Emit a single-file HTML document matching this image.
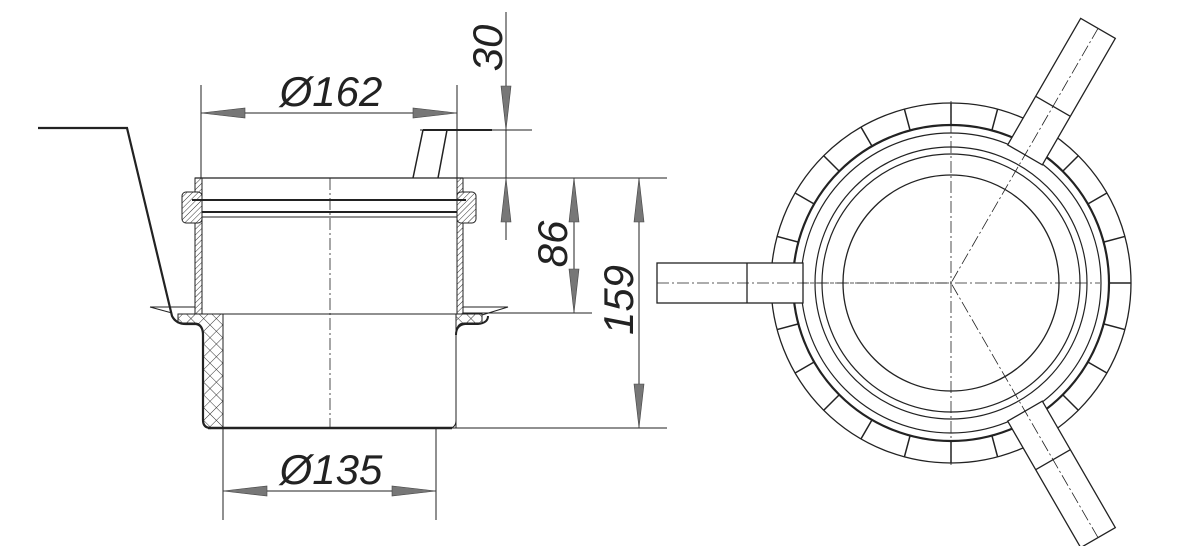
<!DOCTYPE html>
<html><head><meta charset="utf-8"><style>
html,body{margin:0;padding:0;background:#fff}
svg{display:block}
text{font-family:"Liberation Sans",sans-serif;font-style:italic;fill:#222}
</style></head><body>
<svg width="1194" height="546" viewBox="0 0 1194 546" xmlns="http://www.w3.org/2000/svg">
<defs>
<pattern id="h" width="4" height="4" patternUnits="userSpaceOnUse" patternTransform="rotate(45)">
<rect width="4" height="4" fill="#fff"/><line x1="0" y1="0" x2="0" y2="4" stroke="#333" stroke-width="1"/></pattern>
<pattern id="x" width="9" height="9" patternUnits="userSpaceOnUse" patternTransform="rotate(45)">
<rect width="9" height="9" fill="#fff"/><path d="M0 0V9M0 0H9" stroke="#333" stroke-width="1"/></pattern>
</defs>
<g fill="none" stroke="#222" stroke-width="1">
<!-- dimension lines left view -->
<line x1="201" y1="85" x2="201" y2="178"/>
<line x1="457" y1="85" x2="457" y2="178"/>
<line x1="201" y1="113" x2="457" y2="113"/>
<line x1="223" y1="428" x2="223" y2="520"/>
<line x1="436" y1="428" x2="436" y2="520"/>
<line x1="223" y1="491" x2="436" y2="491"/>
<line x1="506" y1="12" x2="506" y2="240"/>
<line x1="420" y1="130" x2="532" y2="130"/>
<line x1="463" y1="178" x2="667" y2="178"/>
<line x1="460" y1="313" x2="592" y2="313"/>
<line x1="456" y1="428" x2="667" y2="428"/>
<line x1="574" y1="178" x2="574" y2="313"/>
<line x1="639" y1="178" x2="639" y2="428"/>
</g>
<g fill="#777" stroke="#444" stroke-width="0.6">
<polygon points="201,113 245,108 245,118"/>
<polygon points="457,113 413,108 413,118"/>
<polygon points="223,491 267,486 267,496"/>
<polygon points="436,491 392,486 392,496"/>
<polygon points="506,130 501,86 511,86"/>
<polygon points="506,178 501,222 511,222"/>
<polygon points="574,178 569,222 579,222"/>
<polygon points="574,313 569,269 579,269"/>
<polygon points="639,178 634,222 644,222"/>
<polygon points="639,428 634,384 644,384"/>
</g>
<text x="331" y="106" font-size="42" text-anchor="middle">Ø162</text>
<text x="331" y="484" font-size="42" text-anchor="middle">Ø135</text>
<text font-size="42" text-anchor="middle" transform="translate(502,48) rotate(-90)">30</text>
<text font-size="42" text-anchor="middle" transform="translate(567,244) rotate(-90)">86</text>
<text font-size="42" text-anchor="middle" transform="translate(633,300) rotate(-90)">159</text>

<!-- left section -->
<g stroke="#222" stroke-width="1">
<rect x="195" y="178" width="7" height="144" fill="url(#h)"/>
<rect x="457" y="178" width="6" height="144" fill="url(#h)"/>
<rect x="182" y="192" width="20" height="31" rx="4" fill="url(#h)"/>
<rect x="457" y="192" width="19" height="31" rx="4" fill="url(#h)"/>
<path d="M202 314 H223 V428 H210 Q203 428 203 420 V335 Q203 323 195 323 H178 V314 Z" fill="url(#x)"/>
<path d="M436 314 H456 V428 H449 Q456 428 456 420 V335 Q456 323 464 323 H482 V314 Z" fill="url(#x)"/>
</g>
<g fill="none" stroke="#222">
<line x1="195" y1="178" x2="463" y2="178" stroke-width="1.2"/>
<line x1="192" y1="200" x2="466" y2="200" stroke-width="2"/>
<line x1="202" y1="212" x2="457" y2="212" stroke-width="2"/>
<line x1="202" y1="217" x2="457" y2="217" stroke-width="1"/>
<line x1="223" y1="314" x2="436" y2="314" stroke-width="1"/>
<line x1="208" y1="428" x2="452" y2="428" stroke-width="2.5"/>
<line x1="330" y1="178" x2="330" y2="428" stroke-width="0.8" stroke-dasharray="12,3,2,3"/>
<path d="M38 128 H127 L172 316 Q176 324 186 324 H196 Q203 325 203 335 V420 Q203 428 211 428" stroke-width="2.2"/>
<path d="M456 335 Q456 325 465 324 H478 Q488 323 488 316" stroke-width="2"/>
<path d="M150 307 H195 M150 307 L172 313" stroke-width="1"/>
<path d="M463 307 H508 L482 315" stroke-width="1"/>
<path d="M423 130 H492" stroke-width="2"/>
<path d="M423 130 L413 178 M447 130 L438 178" stroke-width="1.5"/>
</g>

<!-- top view -->
<g fill="none" stroke="#222">
<circle cx="951" cy="283" r="180" stroke-width="1.3"/>
<circle cx="951" cy="283" r="158" stroke-width="2.2"/>
<circle cx="951" cy="283" r="150" stroke-width="1.2"/>
<circle cx="951" cy="283" r="136" stroke-width="1.2"/>
<circle cx="951" cy="283" r="129" stroke-width="1.2"/>
<circle cx="951" cy="283" r="108" stroke-width="1.3"/>
<g stroke-width="1.5" transform="translate(951,283)">
<line x1="158" y1="0" x2="180" y2="0" transform="rotate(0)"/>
<line x1="158" y1="0" x2="180" y2="0" transform="rotate(15)"/>
<line x1="158" y1="0" x2="180" y2="0" transform="rotate(30)"/>
<line x1="158" y1="0" x2="180" y2="0" transform="rotate(45)"/>
<line x1="158" y1="0" x2="180" y2="0" transform="rotate(75)"/>
<line x1="158" y1="0" x2="180" y2="0" transform="rotate(90)"/>
<line x1="158" y1="0" x2="180" y2="0" transform="rotate(105)"/>
<line x1="158" y1="0" x2="180" y2="0" transform="rotate(120)"/>
<line x1="158" y1="0" x2="180" y2="0" transform="rotate(135)"/>
<line x1="158" y1="0" x2="180" y2="0" transform="rotate(150)"/>
<line x1="158" y1="0" x2="180" y2="0" transform="rotate(165)"/>
<line x1="158" y1="0" x2="180" y2="0" transform="rotate(195)"/>
<line x1="158" y1="0" x2="180" y2="0" transform="rotate(210)"/>
<line x1="158" y1="0" x2="180" y2="0" transform="rotate(225)"/>
<line x1="158" y1="0" x2="180" y2="0" transform="rotate(240)"/>
<line x1="158" y1="0" x2="180" y2="0" transform="rotate(255)"/>
<line x1="158" y1="0" x2="180" y2="0" transform="rotate(270)"/>
<line x1="158" y1="0" x2="180" y2="0" transform="rotate(285)"/>
<line x1="158" y1="0" x2="180" y2="0" transform="rotate(315)"/>
<line x1="158" y1="0" x2="180" y2="0" transform="rotate(330)"/>
<line x1="158" y1="0" x2="180" y2="0" transform="rotate(345)"/>
</g>
<g stroke-width="0.8" stroke-dasharray="12,3,2,3">
<line x1="795" y1="283" x2="1100" y2="283"/>
<line x1="951" y1="101" x2="951" y2="465"/>
</g>
</g>
<g stroke="#222" stroke-width="1.3">
<g transform="rotate(0 951 283)">
<rect x="657" y="263" width="146" height="40" fill="#fff"/>
<line x1="747" y1="263" x2="747" y2="303"/>
<line x1="657" y1="283" x2="951" y2="283" stroke-width="0.8" stroke-dasharray="12,3,2,3"/>
</g>
<g transform="rotate(120 951 283)">
<rect x="657" y="263" width="146" height="40" fill="#fff"/>
<line x1="747" y1="263" x2="747" y2="303"/>
<line x1="657" y1="283" x2="951" y2="283" stroke-width="0.8" stroke-dasharray="12,3,2,3"/>
</g>
<g transform="rotate(-120 951 283)">
<rect x="657" y="263" width="146" height="40" fill="#fff"/>
<line x1="747" y1="263" x2="747" y2="303"/>
<line x1="657" y1="283" x2="951" y2="283" stroke-width="0.8" stroke-dasharray="12,3,2,3"/>
</g>
</g>
</svg>
</body></html>
